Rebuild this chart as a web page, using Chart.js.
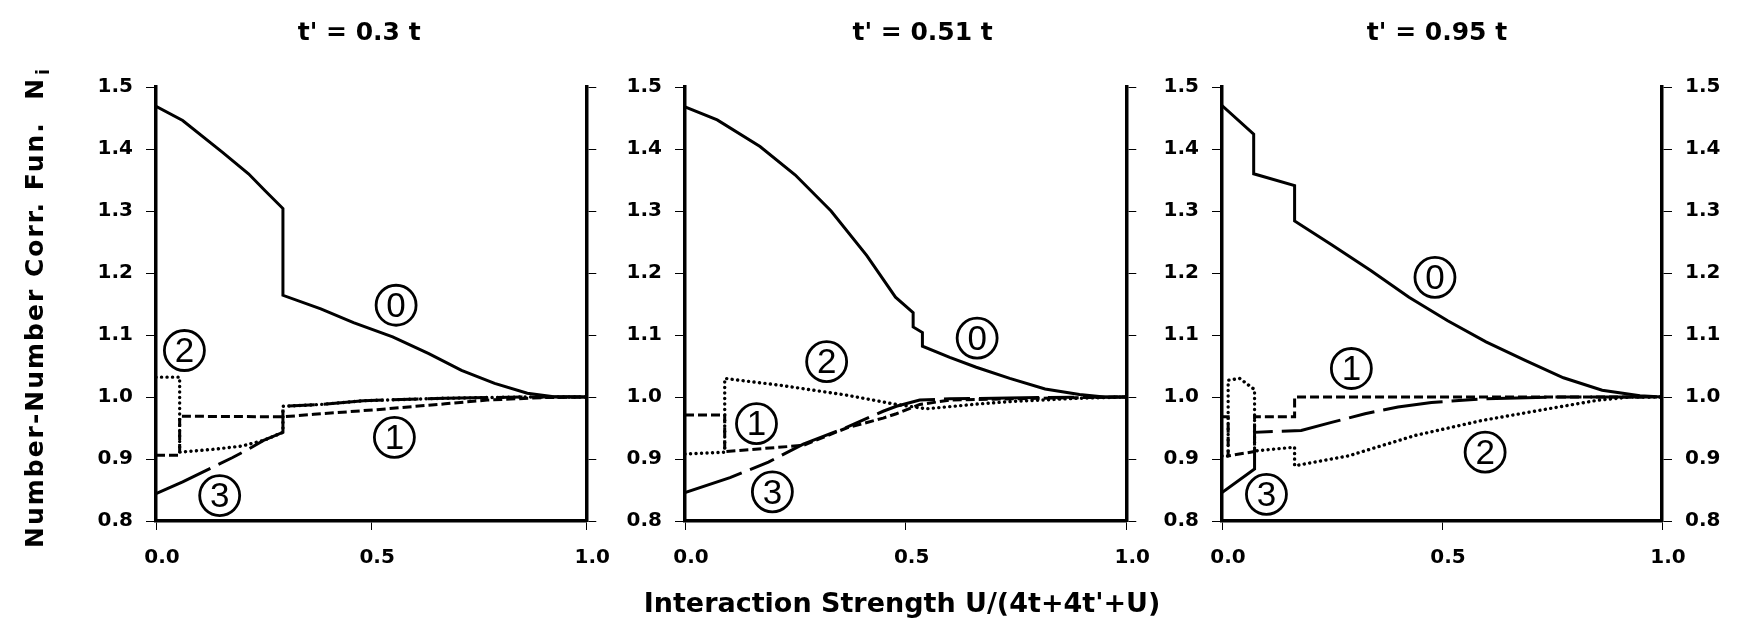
<!DOCTYPE html>
<html>
<head>
<meta charset="utf-8">
<script src="https://cdn.jsdelivr.net/npm/chart.js@4.4.1/dist/chart.umd.min.js"></script>
<style>
	html, body { margin: 0; padding: 0; background: #fff; }
	#wrap { position: relative; width: 1743px; height: 633px; overflow: hidden; }
	canvas { position: absolute; top: 0; }
</style>
</head>
<body>
<div id="wrap">
	<canvas id="c1" width="620" height="633" style="left:0px"></canvas>
	<canvas id="c2" width="540" height="633" style="left:620px"></canvas>
	<canvas id="c3" width="583" height="633" style="left:1160px"></canvas>
</div>
<script>
var ticksX = [0, 0.5, 1.0]
var ticksY = [0.8, 0.9, 1.0, 1.1, 1.2, 1.3, 1.4, 1.5]
var titles = ["t' = 0.3 t", "t' = 0.51 t", "t' = 0.95 t"]
var xTitle = "Interaction Strength U/(4t+4t'+U)"
var yTitle = "Number-Number Corr. Fun.  N"

// curves i = 0..3, as [x, y] pairs; repeated x = a jump
// t' = 0.3 t
var p1c0 = [[0,1.469],[0.062,1.446],[0.154,1.395],[0.215,1.360],[0.253,1.333],[0.295,1.304],[0.295,1.164],[0.383,1.142],[0.459,1.120],[0.55,1.097],[0.634,1.070],[0.71,1.043],[0.787,1.022],[0.863,1.006],[0.92,1.001],[1,1.0]]
var p1c1 = [[0,0.906],[0.055,0.906],[0.055,0.969],[0.295,0.968],[0.367,0.972],[0.52,0.980],[0.672,0.989],[0.77,0.995],[0.9,0.999],[1,1.0]]
var p1c2 = [[0,1.032],[0.055,1.032],[0.055,0.911],[0.139,0.916],[0.2,0.921],[0.25,0.93],[0.295,0.943],[0.295,0.985],[0.383,0.988],[0.482,0.994],[0.672,0.998],[0.85,1.0],[1,1.0]]
var p1c3 = [[0,0.844],[0.062,0.863],[0.177,0.902],[0.215,0.916],[0.25,0.93],[0.295,0.943],[0.295,0.985],[0.383,0.988],[0.482,0.994],[0.672,0.998],[0.85,1.0],[1,1.0]]
var p1Labels = [['0',0.558,1.148],['1',0.554,0.935],['2',0.066,1.075],['3',0.148,0.841]]

// t' = 0.51 t
var p2c0 = [[0,1.468],[0.073,1.447],[0.17,1.404],[0.25,1.358],[0.331,1.300],[0.412,1.228],[0.477,1.161],[0.517,1.136],[0.517,1.113],[0.538,1.104],[0.538,1.082],[0.6,1.064],[0.66,1.048],[0.736,1.030],[0.816,1.013],[0.894,1.004],[0.95,1.0],[1,1.0]]
var p2c1 = [[0,0.971],[0.09,0.971],[0.09,0.912],[0.268,0.922],[0.366,0.950],[0.449,0.966],[0.479,0.973],[0.532,0.988],[0.6,0.995],[0.8,0.998],[1,1.0]]
var p2c2 = [[0,0.908],[0.09,0.911],[0.09,1.030],[0.215,1.019],[0.366,1.003],[0.479,0.988],[0.547,0.981],[0.668,0.989],[0.743,0.993],[0.894,0.998],[1,1.0]]
var p2c3 = [[0,0.846],[0.102,0.870],[0.189,0.895],[0.268,0.924],[0.366,0.951],[0.449,0.977],[0.479,0.985],[0.532,0.995],[0.6,0.997],[0.8,0.999],[1,1.0]]
var p2Labels = [['0',0.662,1.095],['1',0.162,0.957],['2',0.321,1.057],['3',0.198,0.847]]

// t' = 0.95 t
var p3c0 = [[0,1.470],[0.072,1.424],[0.072,1.360],[0.165,1.341],[0.165,1.284],[0.25,1.245],[0.338,1.204],[0.425,1.161],[0.513,1.123],[0.6,1.089],[0.689,1.059],[0.776,1.031],[0.864,1.011],[0.95,1.002],[1,1.0]]
var p3c1 = [[0,0.968],[0.014,0.968],[0.014,0.905],[0.074,0.912],[0.074,0.968],[0.165,0.968],[0.165,1.0],[1,1.0]]
var p3c2 = [[0,0.905],[0.014,0.905],[0.014,1.027],[0.04,1.03],[0.074,1.012],[0.074,0.913],[0.165,0.919],[0.165,0.889],[0.287,0.905],[0.439,0.938],[0.59,0.962],[0.742,0.981],[0.856,0.995],[0.93,1.0],[1,1.0]]
var p3c3 = [[0,0.846],[0.074,0.884],[0.074,0.943],[0.18,0.946],[0.249,0.959],[0.325,0.973],[0.4,0.984],[0.476,0.991],[0.59,0.997],[0.75,1.0],[1,1.0]]
var p3Labels = [['0',0.484,1.193],['1',0.294,1.046],['2',0.598,0.911],['3',0.101,0.843]]

// line style per curve number
var styles = [
	{ width: 3, dash: [], cap: 'butt' },
	{ width: 3, dash: [9, 4], cap: 'butt' },
	{ width: 3.4, dash: [0.1, 5.4], cap: 'round' },
	{ width: 3, dash: [60, 9, 26, 9], cap: 'butt' }
]

var FONT = '"DejaVu Sans", sans-serif'

var decor = {
	id: 'decor',
	afterDraw: function(chart, args, opts) {
		var ctx = chart.ctx
		var a = chart.chartArea
		var sx = chart.scales.x, sy = chart.scales.y
		ctx.save()
		ctx.fillStyle = '#000'
		ctx.strokeStyle = '#000'

		ctx.font = 'bold 25px ' + FONT
		ctx.textAlign = 'center'
		ctx.textBaseline = 'middle'
		ctx.fillText(opts.title, (a.left + a.right) / 2 + opts.titleShift, 33)

		// circled curve numbers
		ctx.font = '35px "Liberation Sans", Arial, sans-serif'
		ctx.lineWidth = 2.8
		opts.labels.forEach(function(l) {
			var px = sx.getPixelForValue(l[1])
			var py = sy.getPixelForValue(l[2])
			ctx.beginPath()
			ctx.arc(px, py, 20, 0, Math.PI * 2)
			ctx.stroke()
			ctx.fillText(l[0], px, py + 2)
		})

		if (opts.xTitle) {
			ctx.font = 'bold 27px ' + FONT
			ctx.textAlign = 'center'
			ctx.textBaseline = 'alphabetic'
			ctx.fillText(opts.xTitle, opts.xTitleX, 612)
		}
		if (opts.yTitle) {
			ctx.translate(43, 548)
			ctx.rotate(-Math.PI / 2)
			ctx.font = 'bold 25px ' + FONT
			ctx.letterSpacing = '2px'
			ctx.textAlign = 'left'
			ctx.textBaseline = 'alphabetic'
			ctx.fillText(opts.yTitle, 0, 0)
			var w = ctx.measureText(opts.yTitle).width
			ctx.font = 'bold 17px ' + FONT
			ctx.fillText('i', w + 2, 6)
		}
		ctx.restore()
	}
}

function pts(pairs) {
	return pairs.map(function(p) { return { x: p[0], y: p[1] } })
}

function makeChart(id, curves, o) {
	var ctx = document.getElementById(id).getContext('2d');
	var datasets = curves.map(function(c, i) {
		var s = styles[i]
		return {
			label: 'N' + i,
			data: pts(c),
			borderColor: '#000',
			borderWidth: s.width,
			borderDash: s.dash,
			borderCapStyle: s.cap,
			borderJoinStyle: 'miter',
			pointRadius: 0,
			tension: 0,
			fill: false
		}
	})
	var tickFont = { family: FONT, size: 20, weight: 'bold' }
	var yAxis = function(pos, width, showLabels) {
		return {
			type: 'linear',
			position: pos,
			min: 0.8,
			max: 1.5,
			afterBuildTicks: function(s) { s.ticks = ticksY.map(function(v) { return { value: v } }) },
			afterFit: function(s) { s.width = width },
			border: { display: true, color: '#000', width: 3.5 },
			grid: { drawOnChartArea: false, drawTicks: true, tickLength: 10, color: '#000', lineWidth: 1 },
			ticks: {
				display: showLabels,
				color: '#000',
				font: tickFont,
				padding: 13,
				callback: function(v) { return v.toFixed(1) }
			}
		}
	}
	return new Chart(ctx, {
		type: 'line',
		data: { datasets: datasets },
		options: {
			responsive: false,
			animation: false,
			layout: { padding: { top: 87, left: 0, right: 0, bottom: 0 } },
			plugins: {
				legend: { display: false },
				title: { display: false },
				tooltip: { enabled: false },
				decor: o
			},
			scales: {
				x: {
					type: 'linear',
					min: 0,
					max: 1,
					afterBuildTicks: function(s) { s.ticks = ticksX.map(function(v) { return { value: v } }) },
					afterFit: function(s) { s.height = 112 },
					border: { display: true, color: '#000', width: 3.5 },
					grid: { drawOnChartArea: false, drawTicks: true, tickLength: 9, color: '#000', lineWidth: 1 },
					ticks: {
						color: '#000',
						font: tickFont,
						padding: 16,
						labelOffset: 6,
						maxRotation: 0,
						callback: function(v) { return v.toFixed(1) }
					}
				},
				y: yAxis('left', o.yWidth, true),
				y2: yAxis('right', o.y2Width, o.rightLabels)
			}
		},
		plugins: [decor]
	});
}

makeChart('c1', [p1c0, p1c1, p1c2, p1c3], {
	title: titles[0], titleShift: -12, labels: p1Labels,
	yWidth: 156, y2Width: 27, rightLabels: false, yTitle: yTitle
})
makeChart('c2', [p2c0, p2c1, p2c2, p2c3], {
	title: titles[1], titleShift: 17, labels: p2Labels,
	yWidth: 65, y2Width: 33, rightLabels: false, xTitle: xTitle, xTitleX: 282
})
makeChart('c3', [p3c0, p3c1, p3c2, p3c3], {
	title: titles[2], titleShift: -5, labels: p3Labels,
	yWidth: 62, y2Width: 81, rightLabels: true
})
</script>
</body>
</html>
